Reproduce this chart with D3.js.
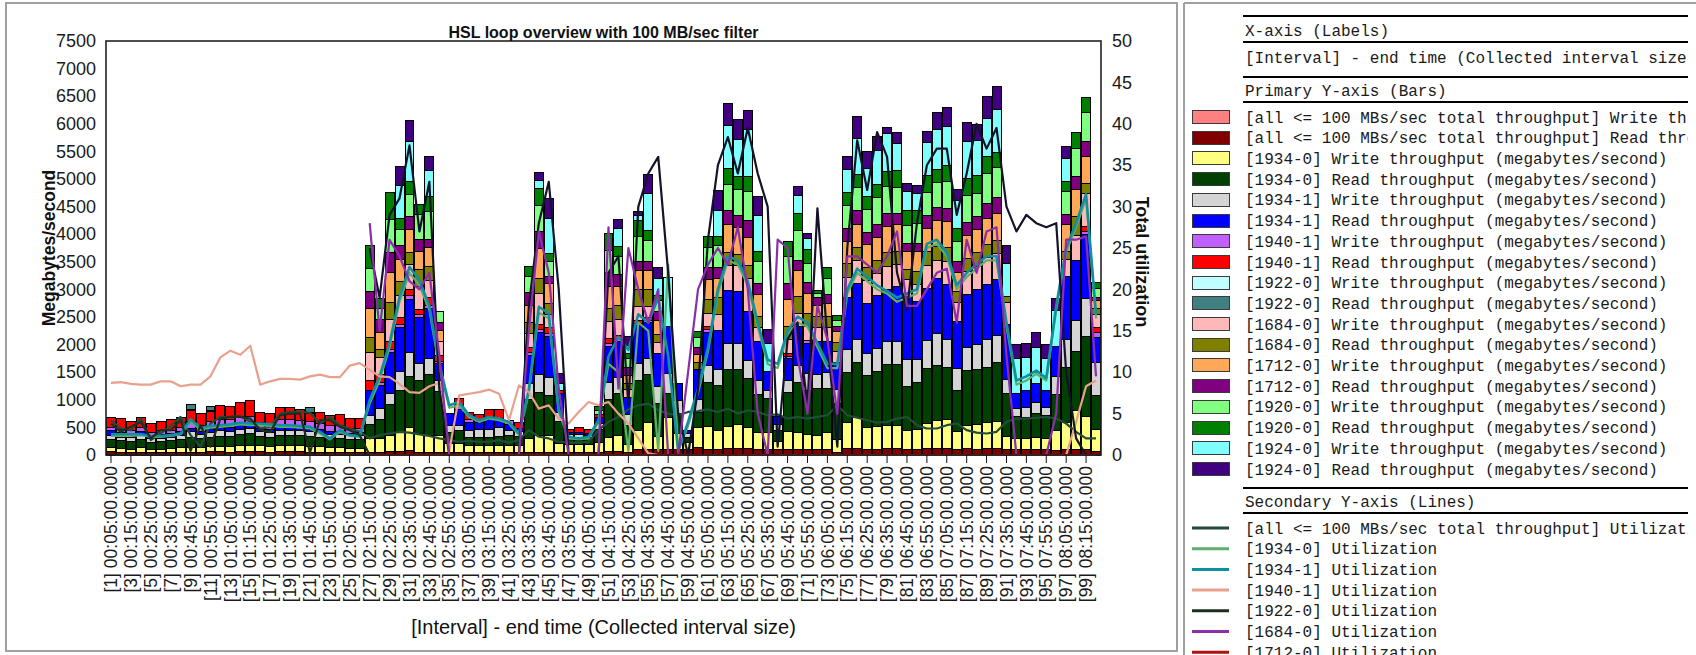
<!DOCTYPE html>
<html>
<head>
<meta charset="utf-8">
<script src="https://cdn.jsdelivr.net/npm/d3@7/dist/d3.min.js"></script>
<style>
  html, body { margin: 0; padding: 0; background: #fff; overflow: hidden; }
  svg { display: block; }
</style>
</head>
<body>
<svg id="chart" width="1696" height="655"></svg>
<script>
// ---- categories: interval end times (5 minute intervals) ----
const intervalEnds = [
  "00:05","00:10","00:15","00:20","00:25","00:30","00:35","00:40","00:45","00:50","00:55","01:00",
  "01:05","01:10","01:15","01:20","01:25","01:30","01:35","01:40","01:45","01:50","01:55","02:00",
  "02:05","02:10","02:15","02:20","02:25","02:30","02:35","02:40","02:45","02:50","02:55","03:00",
  "03:05","03:10","03:15","03:20","03:25","03:30","03:35","03:40","03:45","03:50","03:55","04:00",
  "04:05","04:10","04:15","04:20","04:25","04:30","04:35","04:40","04:45","04:50","04:55","05:00",
  "05:05","05:10","05:15","05:20","05:25","05:30","05:35","05:40","05:45","05:50","05:55","06:00",
  "06:05","06:10","06:15","06:20","06:25","06:30","06:35","06:40","06:45","06:50","06:55","07:00",
  "07:05","07:10","07:15","07:20","07:25","07:30","07:35","07:40","07:45","07:50","07:55","08:00",
  "08:05","08:10","08:15","08:20"
];
const categories = intervalEnds.map((t, i) => "[" + (i + 1) + "] " + t + ":00.000");

// ---- axis ticks ----
const leftTicks = [0,500,1000,1500,2000,2500,3000,3500,4000,4500,5000,5500,6000,6500,7000,7500];
const rightTicks = [0,5,10,15,20,25,30,35,40,45,50];

// ---- bar series: throughput, megabytes/second (stacked in this order) ----
const allWrite = [15,0,0,0,0,0,0,0,0,0,0,0,0,0,0,0,0,0,0,0,0,0,0,0,0,0,
  0,0,0,0,0,0,0,0,0,0,0,0,0,0,0,0,0,0,0,0,0,0,0,0,
  0,0,0,0,0,0,0,0,0,0,0,0,0,0,0,0,0,0,0,0,0,0,0,0,0,
  0,0,0,0,0,0,0,0,0,0,0,0,0,0,0,0,0,0,0,0,0,0,0,0,0];
const allRead = [60,60,55,60,50,55,60,60,60,60,65,65,60,70,70,70,60,80,80,70,60,60,60,60,55,55,
  60,60,70,70,90,60,60,60,60,60,60,60,60,60,60,60,60,60,60,60,60,60,60,60,
  70,70,50,110,110,100,110,110,110,150,110,110,120,120,120,110,110,110,110,110,110,110,110,60,120,
  120,100,100,120,120,100,110,120,125,120,100,120,110,120,120,100,100,100,105,100,90,100,100,100,80];
const w1934_0 = [70,70,60,80,60,60,70,80,90,80,90,90,100,110,120,110,100,110,110,110,100,100,90,90,80,80,
  240,250,300,350,410,330,300,300,150,150,120,120,120,130,130,130,250,300,300,160,140,140,140,170,
  250,300,150,350,480,250,570,290,120,360,420,350,400,450,390,300,300,150,330,300,270,250,300,230,480,
  570,400,420,420,420,360,360,460,510,540,330,420,450,480,500,250,210,205,230,210,360,500,720,600,400];
const r1934_0 = [150,140,140,150,130,140,140,150,180,160,180,190,190,200,200,170,170,180,180,180,180,170,160,160,150,150,
  270,350,550,750,940,970,1100,800,210,240,150,150,150,150,180,160,700,780,720,400,120,120,120,250,
  700,750,350,900,870,600,450,360,100,270,800,800,1030,980,880,700,620,200,700,920,800,850,800,650,900,
  1000,950,1000,1100,1100,795,850,1000,1000,940,740,1000,1000,1000,1060,775,390,390,420,410,650,1000,1070,1450,600];
const w1934_1 = [60,60,70,70,60,60,60,70,100,80,90,100,90,90,100,80,80,90,90,90,90,80,70,70,70,70,
  150,200,200,350,420,300,300,200,120,90,120,150,150,160,80,80,300,330,330,150,60,60,40,100,
  300,300,200,300,300,300,350,240,60,240,300,300,470,470,330,250,150,100,210,300,300,250,300,250,420,
  420,400,420,420,420,480,420,500,575,500,400,420,450,500,500,250,150,180,200,150,330,500,550,700,600];
const r1934_1 = [90,80,60,80,60,70,70,70,60,60,70,70,70,80,70,60,60,60,60,60,60,60,60,60,50,60,
  450,400,750,800,970,840,900,300,220,300,150,120,180,160,120,60,500,750,750,350,40,40,40,100,
  650,650,300,700,650,600,850,310,60,540,600,700,970,950,880,700,350,150,400,700,550,600,550,500,950,
  1000,900,950,950,1000,1150,1050,950,1000,1000,850,950,1000,1000,1000,1000,270,300,350,300,540,1150,1100,1150,450];
const w1940_1 = [70,60,60,75,55,60,60,80,130,110,120,130,140,150,150,110,100,130,130,120,120,110,100,100,80,70,
  0,60,50,60,60,60,60,50,0,90,60,0,10,10,60,0,50,60,50,0,0,0,0,0,
  50,40,0,30,30,0,0,0,0,0,50,0,0,0,0,0,0,0,50,0,50,0,0,0,0,
  0,0,0,0,0,0,0,0,0,0,0,0,0,0,0,0,0,0,0,0,0,0,0,60,90];
const r1940_1 = [180,195,170,180,160,170,185,185,195,205,175,260,240,265,285,185,195,215,215,210,145,205,185,205,180,180,
  180,150,150,120,120,90,150,100,0,110,120,140,160,160,0,100,100,90,100,60,60,80,80,60,
  100,60,0,60,60,0,0,0,0,0,50,0,0,0,0,0,0,0,50,0,0,0,0,0,0,
  0,0,0,0,0,0,0,0,0,0,0,0,0,0,0,0,0,0,0,0,0,0,0,90,90];
const w1922_0 = [0,0,0,0,0,0,0,0,25,0,25,0,0,0,0,0,0,0,0,0,25,0,0,0,0,0,
  0,0,0,0,0,0,0,0,0,0,0,0,0,0,0,0,0,0,0,0,0,0,0,0,
  0,0,0,0,0,0,0,0,0,0,0,0,0,0,0,0,0,0,0,0,0,0,0,0,0,
  0,0,0,0,0,0,0,0,0,0,0,0,0,0,0,0,0,0,0,0,0,0,0,0,0];
const r1922_0 = [0,0,0,0,0,0,0,0,80,0,75,0,0,0,0,0,0,0,0,0,85,0,0,0,0,0,
  0,0,0,0,0,0,0,0,0,0,0,0,0,0,0,0,0,0,0,0,0,0,0,0,
  0,0,0,0,0,0,0,0,0,0,0,0,0,0,0,0,0,0,0,0,0,0,0,0,0,
  0,0,0,0,0,0,0,0,0,0,0,0,0,0,0,0,0,0,0,0,0,0,0,0,0];
const w1684_0 = [0,0,0,0,0,0,0,0,0,0,0,0,0,0,0,0,0,0,0,0,0,0,0,0,0,0,
  510,300,400,400,450,420,300,250,0,0,0,0,0,0,0,0,250,570,250,0,0,0,0,0,
  300,300,150,250,200,200,0,0,0,0,250,300,450,470,600,250,0,0,250,250,250,250,250,200,350,
  420,420,400,420,400,300,300,420,330,420,350,420,420,480,480,400,0,0,0,0,0,300,450,600,250];
const r1684_0 = [0,0,0,0,0,0,0,0,0,0,0,0,0,0,0,0,0,0,0,0,0,0,0,0,0,0,
  270,150,300,250,210,300,250,0,0,0,0,0,0,0,0,0,200,270,200,0,0,0,0,0,
  250,250,100,300,300,150,0,0,0,120,250,300,240,210,240,200,0,0,240,300,250,200,200,150,250,
  240,240,240,240,240,180,240,240,240,240,200,240,240,240,240,100,0,0,0,0,0,150,340,180,100];
const w1712_0 = [0,0,0,0,0,0,0,0,0,0,0,0,0,0,0,0,0,0,0,0,0,0,0,0,0,0,
  540,300,550,400,420,330,350,200,0,0,0,0,0,0,0,0,300,540,360,0,0,0,0,0,
  400,350,150,360,360,250,0,0,0,150,360,350,500,480,510,400,0,0,480,480,350,200,250,200,400,
  420,420,420,480,480,330,360,420,480,480,350,420,420,480,480,0,0,0,0,0,0,480,480,480,150];
const r1712_0 = [0,0,0,0,0,0,0,0,0,0,0,0,0,0,0,0,0,0,0,0,0,0,0,0,0,0,
  300,250,350,250,240,210,150,150,0,0,0,0,0,0,0,0,250,300,120,0,0,0,0,0,
  250,200,150,150,150,150,0,0,0,120,210,200,250,210,300,200,0,0,300,180,200,150,150,100,240,
  240,210,240,240,200,150,150,240,240,240,200,240,240,270,300,0,0,0,0,0,0,180,240,270,60];
const w1920_0 = [0,0,0,0,0,0,0,0,0,0,0,0,0,0,0,0,0,0,0,0,0,0,0,0,0,0,
  420,200,600,300,390,450,500,200,0,0,0,0,0,0,0,0,290,480,270,0,0,0,0,80,
  400,330,150,450,390,200,0,0,0,180,360,400,480,470,540,400,0,0,480,540,350,70,300,100,420,
  420,420,480,480,480,330,360,420,450,480,350,480,420,540,540,0,0,0,0,0,0,420,510,540,150];
const r1920_0 = [0,0,0,0,0,0,0,0,0,0,0,0,0,0,0,0,0,0,0,0,0,0,0,0,0,0,
  420,180,500,200,240,190,270,0,0,0,0,0,0,0,0,0,170,300,150,0,0,0,0,70,
  300,180,100,300,180,100,0,0,0,120,210,150,290,240,270,180,0,0,280,300,250,60,200,100,240,
  240,240,240,270,300,270,240,300,240,300,250,300,330,300,270,0,0,0,0,0,0,180,290,270,120];
const w1924_0 = [0,0,0,0,0,0,0,0,0,0,0,0,0,0,0,0,0,0,0,0,0,0,0,0,0,0,
  0,0,0,600,720,0,480,0,0,0,0,0,0,0,0,0,0,150,630,120,0,0,0,0,
  0,330,150,90,660,300,900,0,0,0,0,480,770,680,850,660,500,0,0,330,200,0,0,0,420,
  650,500,620,700,500,330,300,600,710,700,500,680,620,700,780,600,630,600,650,580,660,420,0,0,0];
const r1924_0 = [0,0,0,0,0,0,0,0,0,0,0,0,0,0,0,0,0,0,0,0,0,0,0,0,0,0,
  0,0,0,330,390,0,250,0,0,0,0,0,0,0,0,0,0,150,360,180,0,0,0,0,
  0,160,150,70,350,200,0,0,0,0,0,360,410,350,340,340,250,0,0,160,100,0,0,0,230,
  400,300,250,100,200,160,150,200,310,350,200,350,300,400,420,330,260,260,280,260,210,220,0,0,0];

const barNames = [
  "[all <= 100 MBs/sec total throughput] Write throughput (megabytes/second)",
  "[all <= 100 MBs/sec total throughput] Read throughput (megabytes/second)",
  "[1934-0] Write throughput (megabytes/second)",
  "[1934-0] Read throughput (megabytes/second)",
  "[1934-1] Write throughput (megabytes/second)",
  "[1934-1] Read throughput (megabytes/second)",
  "[1940-1] Write throughput (megabytes/second)",
  "[1940-1] Read throughput (megabytes/second)",
  "[1922-0] Write throughput (megabytes/second)",
  "[1922-0] Read throughput (megabytes/second)",
  "[1684-0] Write throughput (megabytes/second)",
  "[1684-0] Read throughput (megabytes/second)",
  "[1712-0] Write throughput (megabytes/second)",
  "[1712-0] Read throughput (megabytes/second)",
  "[1920-0] Write throughput (megabytes/second)",
  "[1920-0] Read throughput (megabytes/second)",
  "[1924-0] Write throughput (megabytes/second)",
  "[1924-0] Read throughput (megabytes/second)"
];
const barColors = ["#ff8080","#800000","#ffff80","#004000","#d4d4d4","#0000ff","#c060ff","#ff0000",
  "#c0ffff","#408080","#ffb8b8","#808000","#ffa858","#800080","#80ff80","#008000","#80ffff","#400080"];
const barValues = [allWrite, allRead, w1934_0, r1934_0, w1934_1, r1934_1, w1940_1, r1940_1,
  w1922_0, r1922_0, w1684_0, r1684_0, w1712_0, r1712_0, w1920_0, r1920_0, w1924_0, r1924_0];

// ---- line series: utilization (secondary axis) ----
const utilAll = [4.2,3.2,3.0,4.4,1.8,2.6,3.5,4.6,2.4,1.0,3.8,4.6,4.6,4.7,4.0,3.2,3.4,5.0,5.2,5.2,5.1,3.8,4.6,3.6,3.2,2.8,
  2.0,2.4,2.6,2.8,2.7,2.5,2.3,2.0,1.8,1.6,1.7,1.6,1.6,1.8,1.5,1.8,3.0,2.2,2.0,1.6,1.5,1.5,1.6,3.0,
  4.0,4.6,5.5,6.0,6.2,5.4,5.0,4.8,5.2,5.3,5.5,5.2,5.6,5.0,5.4,5.2,4.8,4.9,4.4,4.6,4.4,4.6,4.8,6.0,4.8,
  4.5,4.2,3.9,4.0,4.4,4.6,3.6,3.2,3.2,3.6,3.8,3.0,2.7,2.6,2.8,4.0,4.4,4.4,4.5,4.6,4.4,3.8,2.8,2.0,2.0];
const util1934_0 = [2.3,2.3,2.3,2.4,2.2,2.2,2.3,2.5,4.0,3.1,3.3,3.4,3.5,3.7,3.6,3.6,3.5,3.4,3.4,3.3,3.2,2.6,1.9,2.8,2.3,2.2,
  6.2,9.0,13.0,18.5,22.0,20.5,17.5,10.5,5.7,6.0,4.6,4.0,4.4,4.2,3.8,2.4,7.5,17.2,16.5,5.2,2.0,1.9,2.0,4.0,11.0,10.0,
  0.5,16.0,15.0,0.5,23.0,0.5,3.5,7.5,12.5,19.5,23.5,23.0,20.5,15.5,11.0,10.5,14.5,16.0,15.5,13.0,10.5,10.5,19.5,22.0,
  21.0,20.0,19.5,18.5,19.0,19.5,25.0,25.5,24.0,20.0,21.5,22.5,23.5,23.5,15.5,8.5,9.0,9.8,9.0,17.5,24.5,27.5,31.0,16.5];
const util1934_1 = [2.5,2.5,2.5,2.5,2.3,2.3,2.4,2.6,4.3,3.3,3.5,3.6,3.7,3.9,3.8,3.8,3.7,3.6,3.6,3.5,3.4,2.8,2.0,3.0,2.4,2.3,
  6.6,9.5,13.5,19.1,22.7,21.1,18.0,11.0,6.0,6.4,4.8,4.2,4.6,4.4,4.0,2.6,7.9,17.9,17.1,5.6,2.2,2.0,2.2,4.2,11.9,14.3,
  12.7,17.0,16.0,19.0,12.0,0.5,4.0,8.0,13.0,20.0,24.0,23.5,21.0,16.0,11.5,11.0,15.0,16.7,16.0,13.5,11.0,11.0,20.0,22.5,
  21.5,20.5,19.8,19.0,19.5,20.0,25.5,26.0,24.5,20.5,22.0,23.0,24.0,24.0,16.0,9.0,9.5,10.2,9.3,18.0,25.0,28.0,31.5,17.0];
const util1940_1 = [8.7,8.8,8.6,8.5,8.5,8.9,8.9,8.3,8.5,8.5,9.5,11.8,12.6,12.1,13.2,8.5,8.9,9.2,9.2,9.1,9.5,9.7,9.4,9.4,10.8,11.1,
  10.3,9.5,9.4,8.6,7.6,7.5,8.3,8.7,0.5,7.2,7.4,7.6,7.9,7.4,4.2,8.4,7.6,5.6,6.0,4.4,3.8,5.2,6.4,6.0,6.4,
  5.0,3.8,2.0,0.2,
  0,0,0,0,0,0,0,0,0,0,0,0,0,0,0,0,0,0,0,0,0,0,0,0,0,0,0,0,0,0,0,0,0,0,0,0,0,0,0,0,0,
  0,4.0,8.3,9.0];
const util1922_0 = [3.8,2.8,3.4,4.0,2.0,3.0,3.0,4.2,0.5,3.6,1.0,4.4,4.6,4.6,4.4,3.0,2.8,4.8,5.0,5.0,0.3,4.2,4.2,3.4,3.0,2.4,
  0,0,0,0,0,0,0,0,0,0,0,0,0,0,0,0,0,0,0,0,0,0,0,0,
  0,0,0,0,0,0,0,0,0,0,0,0,0,0,0,0,0,0,0,0,0,0,0,0,0,
  0,0,0,0,0,0,0,0,0,0,0,0,0,0,0,0,0,0,0,0,0,0,0,0,0];
const util1684_0 = [null,null,null,null,null,null,null,null,null,null,null,null,null,null,null,null,null,null,null,null,null,null,null,null,null,null,
  28,15,26,24,21,20,22,12,0,0,0,0,0,0,0,0,15,27,22,8,0,0,0,0,
  27.5,8,25,20,16,20,0,0,10,20,23,25,23,27.5,20,5,0,26,25,12,5,18,14,5,24,
  24,23,22,24,27,18,18,20,22,22.5,16,26,22,27,27.5,12,0,0,0,0,5,26,26,26.4,9.5];
const util1712_0 = [null,null,null,null,null,null,null,null,null,null,null,null,null,null,null,null,null,null,null,null,null,null,null,null,null,null,
  0,0,0,0,0,0,0,0,0,0,0,0,0,0,0,0,0,0,0,0,0,0,0,0,
  0,0,0,0,0,0,0,0,0,0,0,0,0,0,0,0,0,0,0,0,0,0,0,0,0,
  0,0,0,0,0,0,0,0,0,0,0,0,0,0,0,0,0,0,0,0,0,0,0,0,0];
const util1924_0 = [null,null,null,null,null,null,null,null,null,null,null,null,null,null,null,null,null,null,null,null,null,null,null,null,null,null,
  25,19,29,31,37.4,27,33,8,0,0,0,0,0,0,0,0,18,28,33,20,0,0,0,0,
  22,24,6,30,34,36,22,5,0,8,26,35,38.4,34,39.5,34,30,1,14,16,6,29.8,14,1,25,
  38,32,39,36,22,17.5,28,35,37,37,29,34,40,37,39.5,30,27,29,28,27.5,28,10,2,0,0];

const lineNames = [
  "[all <= 100 MBs/sec total throughput] Utilization",
  "[1934-0] Utilization",
  "[1934-1] Utilization",
  "[1940-1] Utilization",
  "[1922-0] Utilization",
  "[1684-0] Utilization",
  "[1712-0] Utilization",
  "[1924-0] Utilization"
];
const lineColors = ["#234b3b","#5fae6c","#10909e","#e9a08c","#1c2e1c","#8a2fa8","#b01010","#13132a"];
const lineValues = [utilAll, util1934_0, util1934_1, util1940_1, util1922_0, util1684_0, util1712_0, util1924_0];
// drawing order of the lines (later ones on top)
const lineDrawOrder = [0, 1, 2, 3, 4, 7, 5, 6];

// ---- layout ----
const svg = d3.select("#chart");
const plot = { left: 106, right: 1101, top: 41, bottom: 455 };
const FONT = "'Liberation Sans', Arial, sans-serif";
const MONO = "'Liberation Mono', 'Courier New', monospace";

// panel frames
svg.append("rect").attr("x", 6).attr("y", 3).attr("width", 1171).attr("height", 648)
  .attr("fill", "none").attr("stroke", "#a0a0a0").attr("stroke-width", 2);
svg.append("line").attr("x1", 1184).attr("x2", 1184).attr("y1", 3).attr("y2", 655)
  .attr("stroke", "#a0a0a0").attr("stroke-width", 2);
svg.append("line").attr("x1", 1184).attr("x2", 1696).attr("y1", 3).attr("y2", 3)
  .attr("stroke", "#a0a0a0").attr("stroke-width", 2);

const x = d3.scaleBand().domain(categories).range([plot.left, plot.right]).padding(0);
const yL = d3.scaleLinear().domain([0, 7500]).range([plot.bottom, plot.top]);
const yR = d3.scaleLinear().domain([0, 50]).range([plot.bottom, plot.top]);

// stacked bars
const keys = barNames.map((_, j) => "s" + j);
const rows = categories.map((c, i) => {
  const r = { cat: c };
  keys.forEach((k, j) => { r[k] = barValues[j][i]; });
  return r;
});
const stacked = d3.stack().keys(keys)(rows);

const barG = svg.append("g");
stacked.forEach((layer, j) => {
  barG.append("g").selectAll("rect")
    .data(layer.filter(d => d[1] - d[0] > 0))
    .join("rect")
    .attr("x", d => Math.round(x(d.data.cat)) + 0.5)
    .attr("width", d => Math.round(x(d.data.cat) + x.bandwidth()) - Math.round(x(d.data.cat)) - 1)
    .attr("y", d => Math.round(yL(d[1])) + 0.5)
    .attr("height", d => Math.max(0, Math.round(yL(d[0])) - Math.round(yL(d[1]))))
    .attr("fill", barColors[j])
    .attr("stroke", "#000")
    .attr("stroke-width", 1);
});

// utilization lines
const lineG = svg.append("g");
lineDrawOrder.forEach(j => {
  const pts = categories.map((c, i) => ({ cat: c, v: lineValues[j][i] }));
  const gen = d3.line()
    .defined(d => d.v !== null)
    .x(d => x(d.cat) + x.bandwidth() / 2)
    .y(d => yR(d.v));
  lineG.append("path")
    .attr("d", gen(pts))
    .attr("fill", "none")
    .attr("stroke", lineColors[j])
    .attr("stroke-width", j === 2 ? 2.6 : 2.2)
    .attr("stroke-linejoin", "round");
});

// plot frame
svg.append("rect")
  .attr("x", plot.left).attr("y", plot.top)
  .attr("width", plot.right - plot.left).attr("height", plot.bottom - plot.top)
  .attr("fill", "none").attr("stroke", "#222").attr("stroke-width", 1.6);

// left axis
const axL = svg.append("g").attr("transform", `translate(${plot.left},0)`)
  .call(d3.axisLeft(yL).tickValues(leftTicks).tickFormat(d3.format("d")).tickSize(0).tickPadding(10));
axL.select(".domain").remove();
axL.selectAll("text").attr("font-family", FONT).attr("font-size", 18).attr("fill", "#1a1a1a");

// right axis
const axR = svg.append("g").attr("transform", `translate(${plot.right},0)`)
  .call(d3.axisRight(yR).tickValues(rightTicks).tickFormat(d3.format("d")).tickSize(0).tickPadding(11));
axR.select(".domain").remove();
axR.selectAll("text").attr("font-family", FONT).attr("font-size", 18).attr("fill", "#1a1a1a");

// bottom axis: every other interval labelled
const labelled = categories.filter((_, i) => i % 2 === 0);
const axB = svg.append("g").attr("transform", `translate(0,${plot.bottom})`)
  .call(d3.axisBottom(x).tickValues(labelled).tickSize(8).tickPadding(0));
axB.select(".domain").remove();
axB.selectAll(".tick line").attr("stroke", "#111");
axB.selectAll("text")
  .attr("font-family", FONT).attr("font-size", 17.5).attr("fill", "#1a1a1a")
  .attr("text-anchor", "end")
  .attr("transform", "rotate(-90)")
  .attr("x", -11).attr("y", 0).attr("dy", "0.35em");

// titles
svg.append("text").attr("x", (plot.left + plot.right) / 2).attr("y", 38)
  .attr("text-anchor", "middle").attr("font-family", FONT).attr("font-size", 16)
  .attr("font-weight", "bold").attr("fill", "#111")
  .text("HSL loop overview with 100 MB/sec filter");
svg.append("text").attr("transform", "translate(49,248) rotate(-90)")
  .attr("text-anchor", "middle").attr("dy", "0.35em").attr("font-family", FONT).attr("font-size", 17.5)
  .attr("font-weight", "bold").attr("fill", "#111").text("Megabytes/second");
svg.append("text").attr("transform", "translate(1142,262) rotate(90)")
  .attr("text-anchor", "middle").attr("dy", "0.35em").attr("font-family", FONT).attr("font-size", 18)
  .attr("font-weight", "bold").attr("fill", "#111").text("Total utilization");
svg.append("text").attr("x", (plot.left + plot.right) / 2).attr("y", 634)
  .attr("text-anchor", "middle").attr("font-family", FONT).attr("font-size", 20)
  .attr("fill", "#111").text("[Interval] - end time (Collected interval size)");

// ---- legend panel (content runs past the panel's right edge) ----
svg.append("defs").append("clipPath").attr("id", "legendClip")
  .append("rect").attr("x", 1185).attr("y", 0).attr("width", 503).attr("height", 655);
const lg = svg.append("g").attr("clip-path", "url(#legendClip)");
const lgTextX = 1245, lgRuleX = 1243, swX = 1192, swW = 37;
[16, 42, 77, 102, 488, 513].forEach(yy => {
  lg.append("line").attr("x1", lgRuleX).attr("x2", 1696).attr("y1", yy).attr("y2", yy)
    .attr("stroke", "#000").attr("stroke-width", 2);
});
const lgText = (yy, s) => lg.append("text").attr("x", lgTextX).attr("y", yy).attr("dy", "0.35em")
  .attr("font-family", MONO).attr("font-size", 16).attr("fill", "#1a1a1a")
  .attr("xml:space", "preserve").text(s);
lgText(30, "X-axis (Labels)");
lgText(57, "[Interval] - end time (Collected interval size)");
lgText(90, "Primary Y-axis (Bars)");
lgText(501, "Secondary Y-axis (Lines)");

const step = 20.7;
barNames.forEach((n, j) => {
  const cy = 117 + j * step;
  lg.append("rect").attr("x", swX + 0.5).attr("y", Math.round(cy - 7) + 0.5).attr("width", swW).attr("height", 13)
    .attr("fill", barColors[j]).attr("stroke", "#3a3a3a").attr("stroke-width", 1);
  lgText(cy, n);
});
lineNames.forEach((n, j) => {
  const cy = 528 + j * step;
  lg.append("line").attr("x1", swX).attr("x2", swX + swW).attr("y1", cy).attr("y2", cy)
    .attr("stroke", lineColors[j]).attr("stroke-width", 3);
  lgText(cy, n);
});
</script>
</body>
</html>
